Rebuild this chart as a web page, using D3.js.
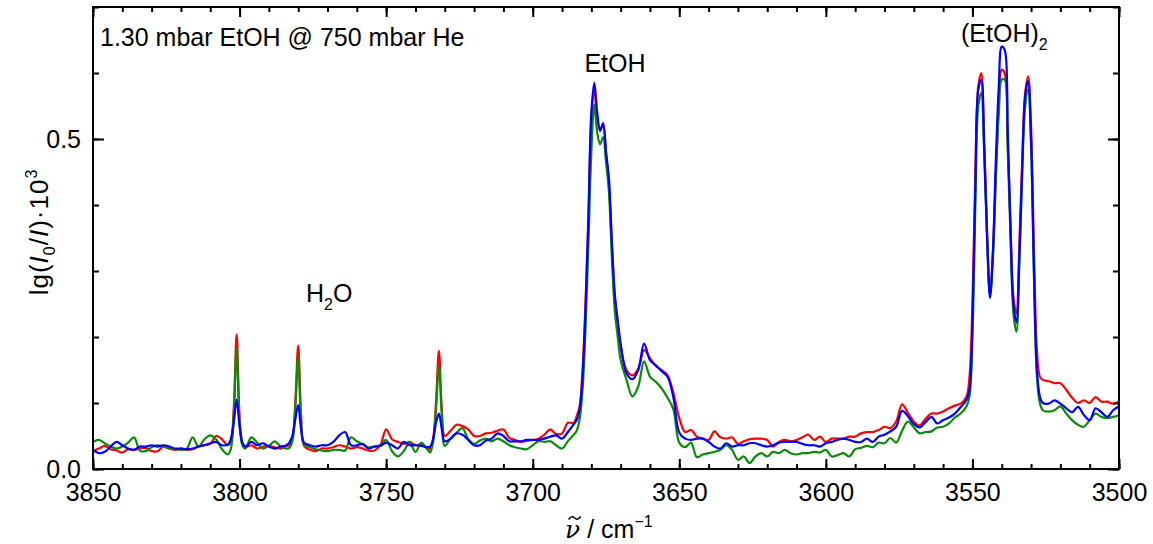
<!DOCTYPE html>
<html><head><meta charset="utf-8">
<script src="https://cdn.jsdelivr.net/npm/d3@7"></script>
<style>
body{margin:0;background:#fff}
svg{display:block}
text{font-family:"Liberation Sans",Arial,sans-serif;fill:#000}
</style>
</head><body>
<svg id="chart" width="1153" height="544"></svg>
<script>
// wavenumber grid (cm^-1)
const wavenumbers = [
 3850,3848,3846,3844,3842,3840,3838,3836,3834,3832,3830,3828,3826,3824,3822,3820,3818,3816,3814,3812,3810,3808,3806,3804,
 3803,3802,3801,3800,3799,
 3798,3796,3794,3792,3790,3788,3786,3784,
 3783,3782,3781,3780,3779,3778,
 3776,3774,3772,3770,3768,3766,3764,3762,3760,3758,3756,3754,3752,3750,3748,3746,3744,3742,3740,3738,3736,
 3735,3734,3733,3732,3731,3730,
 3728,3726,3724,3722,3720,3718,3716,3714,3712,3710,3708,3706,3704,3702,3700,3698,3696,3694,3692,3690,3688,3686,
 3685,3684,3683,3682,3681,3680,3679,3678,3677,3676,3675,3674,3673,3672,3671,3670,
 3668,3666,3664,3662,3660, 3658,3656,3654,3652,3650, 3648,3646,3644,3642,3640, 3638,3636,3634,3632,3630,
 3628,3626,3624,3622,3620, 3618,3616,3614,3612,3610, 3608,3606,3604,3602,3600, 3598,3596,3594,3592,3590,
 3588,3586,3584,3582,3580, 3578,3576,3574,3572,3570, 3568,3566,3564,3562,3560, 3558,3556,3554,3552,
 3551,3550,3549,3548,3547,3546,3545,3544,3543,3542,3541,3540,3539,3538,3537,3536,3535,3534,3533,3532,3531,3530,3529,3528,3527,3526,
 3524,3522,3520,3518,3516,3514,3512,3510,3508,3506,3504,3502,3500
];

const traceRed = [
 0.027,0.031,0.035,0.030,0.028,0.025,0.030,0.029,0.031,0.032,0.027,0.027,0.034,0.031,0.029,0.031,0.029,0.030,0.034,0.036,0.038,0.050,0.045,0.036,
 0.042,0.090,0.204,0.080,0.038,
 0.033,0.036,0.031,0.034,0.035,0.033,0.031,0.035,
 0.036,0.045,0.100,0.187,0.080,0.035,
 0.029,0.027,0.031,0.031,0.033,0.036,0.034,0.031,0.033,0.031,0.028,0.028,0.036,0.060,0.045,0.041,0.038,0.041,0.036,0.037,0.031,
 0.030,0.045,0.100,0.179,0.090,0.050,
 0.058,0.067,0.065,0.060,0.050,0.050,0.054,0.055,0.058,0.060,0.047,0.044,0.041,0.043,0.044,0.046,0.052,0.060,0.053,0.054,0.070,0.070,
 0.080,0.095,0.150,0.250,0.380,0.530,0.578,0.530,0.515,0.520,0.480,0.430,0.340,0.260,0.220,0.185,
 0.150,0.142,0.152,0.180,0.168, 0.156,0.150,0.142,0.115,0.077, 0.056,0.059,0.049,0.046,0.044, 0.057,0.048,0.046,0.048,0.038,
 0.042,0.045,0.046,0.046,0.044, 0.034,0.041,0.044,0.042,0.044, 0.048,0.052,0.044,0.049,0.041, 0.046,0.046,0.046,0.049,0.049,
 0.054,0.056,0.056,0.059,0.064, 0.062,0.072,0.098,0.085,0.072, 0.066,0.076,0.084,0.084,0.087, 0.092,0.096,0.099,0.110,
 0.140,0.250,0.450,0.580,0.600,0.500,0.360,0.266,0.330,0.450,0.550,0.605,0.600,0.500,0.370,0.260,0.236,0.340,0.470,0.570,0.595,0.520,0.330,0.180,0.140,0.135,
 0.133,0.130,0.130,0.120,0.108,0.100,0.104,0.100,0.109,0.102,0.102,0.099,0.102
];

const traceGreen = [
 0.041,0.044,0.039,0.034,0.031,0.034,0.040,0.048,0.028,0.027,0.033,0.036,0.034,0.031,0.030,0.029,0.031,0.048,0.034,0.045,0.051,0.045,0.030,0.022,
 0.030,0.080,0.183,0.070,0.035,
 0.031,0.048,0.040,0.031,0.035,0.042,0.034,0.031,
 0.032,0.042,0.090,0.171,0.070,0.037,
 0.033,0.030,0.028,0.027,0.029,0.029,0.028,0.048,0.042,0.037,0.033,0.034,0.036,0.044,0.027,0.019,0.027,0.040,0.026,0.040,0.030,
 0.025,0.040,0.090,0.156,0.080,0.035,
 0.046,0.055,0.062,0.045,0.038,0.043,0.046,0.042,0.046,0.042,0.036,0.033,0.031,0.030,0.036,0.042,0.041,0.042,0.036,0.031,0.042,0.052,
 0.058,0.075,0.120,0.210,0.340,0.480,0.552,0.510,0.492,0.503,0.465,0.420,0.320,0.240,0.200,0.165,
 0.135,0.110,0.125,0.163,0.140, 0.132,0.122,0.108,0.090,0.040, 0.033,0.040,0.018,0.022,0.024, 0.026,0.029,0.036,0.029,0.014,
 0.019,0.009,0.019,0.024,0.019, 0.026,0.024,0.029,0.024,0.022, 0.024,0.024,0.026,0.025,0.029, 0.019,0.021,0.024,0.019,0.030,
 0.032,0.035,0.033,0.040,0.039, 0.047,0.040,0.058,0.072,0.063, 0.054,0.056,0.057,0.063,0.064, 0.069,0.078,0.084,0.095,
 0.110,0.200,0.400,0.550,0.570,0.480,0.350,0.262,0.320,0.440,0.540,0.590,0.590,0.490,0.350,0.235,0.208,0.310,0.450,0.550,0.575,0.490,0.290,0.140,0.100,0.089,
 0.087,0.089,0.095,0.084,0.074,0.067,0.064,0.074,0.084,0.079,0.077,0.079,0.081
];

const traceBlue = [
 0.029,0.024,0.026,0.034,0.041,0.036,0.031,0.029,0.034,0.034,0.036,0.034,0.036,0.034,0.031,0.031,0.030,0.031,0.034,0.036,0.039,0.041,0.036,0.037,
 0.045,0.070,0.105,0.065,0.040,
 0.034,0.041,0.036,0.039,0.034,0.031,0.034,0.036,
 0.040,0.050,0.075,0.097,0.060,0.040,
 0.036,0.034,0.036,0.036,0.041,0.051,0.056,0.036,0.036,0.038,0.031,0.034,0.035,0.040,0.036,0.031,0.041,0.036,0.036,0.035,0.033,
 0.034,0.045,0.070,0.084,0.060,0.042,
 0.046,0.054,0.052,0.044,0.036,0.036,0.043,0.046,0.054,0.050,0.042,0.042,0.042,0.044,0.044,0.044,0.046,0.049,0.051,0.046,0.056,0.068,
 0.074,0.090,0.140,0.240,0.380,0.540,0.585,0.540,0.512,0.524,0.480,0.440,0.345,0.265,0.225,0.190,
 0.145,0.136,0.150,0.190,0.165, 0.157,0.148,0.140,0.108,0.055, 0.046,0.044,0.046,0.046,0.041, 0.034,0.031,0.039,0.034,0.036,
 0.036,0.039,0.039,0.036,0.034, 0.036,0.040,0.041,0.041,0.041, 0.038,0.036,0.036,0.034,0.039, 0.041,0.044,0.046,0.044,0.041,
 0.041,0.046,0.041,0.049,0.052, 0.057,0.064,0.088,0.080,0.068, 0.063,0.071,0.079,0.069,0.074, 0.078,0.084,0.094,0.105,
 0.120,0.220,0.430,0.575,0.590,0.490,0.350,0.259,0.330,0.470,0.580,0.640,0.635,0.520,0.360,0.250,0.222,0.320,0.460,0.565,0.588,0.500,0.300,0.150,0.110,0.100,
 0.099,0.104,0.099,0.092,0.086,0.094,0.082,0.074,0.092,0.086,0.079,0.089,0.095
];

const xTickLabels = [3850, 3800, 3750, 3700, 3650, 3600, 3550, 3500];
const yTickLabels = [0.0, 0.5];
const seriesColors = ["#ff0000", "#0a8a0a", "#0000ff"];

const W = 1153, H = 544;
const margin = {left: 93, top: 7, right: 34, bottom: 75};
const svg = d3.select("#chart");

const x = d3.scaleLinear().domain([3850, 3500]).range([margin.left, W - margin.right]);
const y = d3.scaleLinear().domain([0, 0.7]).range([H - margin.bottom, margin.top]);

const minorX = d3.range(3500, 3851, 10);
const minorY = d3.range(0, 0.701, 0.1);

// plot lines
const series = [traceRed, traceGreen, traceBlue];
const line = d3.line()
  .x(d => x(d[0])).y(d => y(d[1]))
  .curve(d3.curveCatmullRom.alpha(0.5));

const plotG = svg.append("g");
series.forEach((vals, i) => {
  const pts = wavenumbers.map((w, k) => [w, vals[k]]);
  plotG.append("path").datum(pts)
    .attr("fill", "none").attr("stroke", seriesColors[i])
    .attr("stroke-width", 2.2).attr("stroke-linejoin", "round")
    .attr("d", line);
});

// axes
const x0 = H - margin.bottom, xTop = margin.top, yL = margin.left, yR = W - margin.right;
function styleAxis(g){ g.select(".domain").remove(); g.selectAll("line").attr("stroke","#000").attr("stroke-width",2); }
const tickFont = "25px";

svg.append("g").attr("transform", `translate(0,${x0})`)
  .call(d3.axisBottom(x).tickValues(minorX).tickSize(-5).tickFormat(""))
  .call(styleAxis);
svg.append("g").attr("transform", `translate(0,${x0})`)
  .call(d3.axisBottom(x).tickValues(xTickLabels).tickSize(-10).tickPadding(14).tickFormat(d3.format("d")))
  .call(styleAxis)
  .selectAll("text").style("font-size", tickFont).attr("font-family","Liberation Sans, Arial, sans-serif");

svg.append("g").attr("transform", `translate(0,${xTop})`)
  .call(d3.axisTop(x).tickValues(minorX).tickSize(-5).tickFormat("")).call(styleAxis);
svg.append("g").attr("transform", `translate(0,${xTop})`)
  .call(d3.axisTop(x).tickValues(xTickLabels).tickSize(-10).tickFormat("")).call(styleAxis);

svg.append("g").attr("transform", `translate(${yL},0)`)
  .call(d3.axisLeft(y).tickValues(minorY).tickSize(-6).tickFormat("")).call(styleAxis);
svg.append("g").attr("transform", `translate(${yL},0)`)
  .call(d3.axisLeft(y).tickValues(yTickLabels).tickSize(-11).tickPadding(12).tickFormat(d3.format(".1f")))
  .call(styleAxis)
  .selectAll("text").style("font-size", tickFont).attr("font-family","Liberation Sans, Arial, sans-serif");

svg.append("g").attr("transform", `translate(${yR},0)`)
  .call(d3.axisRight(y).tickValues(minorY).tickSize(-6).tickFormat("")).call(styleAxis);
svg.append("g").attr("transform", `translate(${yR},0)`)
  .call(d3.axisRight(y).tickValues(yTickLabels).tickSize(-11).tickFormat("")).call(styleAxis);

// frame
svg.append("rect").attr("x", yL).attr("y", xTop).attr("width", yR - yL).attr("height", x0 - xTop)
  .attr("fill", "none").attr("stroke", "#000").attr("stroke-width", 2);

// annotations
const annFont = "25px", subFont = "16px";
svg.append("text").attr("x", 100).attr("y", 46).style("font-size", annFont).text("1.30 mbar EtOH @ 750 mbar He");

const h2o = svg.append("text").attr("x", 306).attr("y", 302).style("font-size", annFont);
h2o.append("tspan").text("H");
h2o.append("tspan").attr("dy", 8).style("font-size", subFont).text("2");
h2o.append("tspan").attr("dy", -8).text("O");

svg.append("text").attr("x", 615).attr("y", 72).attr("text-anchor", "middle").style("font-size", annFont).text("EtOH");

const dimer = svg.append("text").attr("x", 961).attr("y", 42).style("font-size", annFont);
dimer.append("tspan").text("(EtOH)");
dimer.append("tspan").attr("dy", 8).style("font-size", subFont).text("2");

// y axis title
const yt = svg.append("text").attr("transform", "translate(48,232) rotate(-90)")
  .attr("text-anchor", "middle").style("font-size", "26px").style("letter-spacing", "1px");
yt.append("tspan").text("lg(");
yt.append("tspan").style("font-style", "italic").text("I");
yt.append("tspan").attr("dy", 7).style("font-size", subFont).text("0");
yt.append("tspan").attr("dy", -7).text("/");
yt.append("tspan").style("font-style", "italic").text("I");
yt.append("tspan").text(")·10");
yt.append("tspan").attr("dy", -11).style("font-size", subFont).text("3");

// x axis title: italic nu with a drawn tilde accent, then " / cm^-1"
const xLabelX = 565, xLabelY = 538;
const nu = svg.append("text").attr("x", xLabelX).attr("y", xLabelY)
  .style("font-size", "25px").style("font-family", "'DejaVu Serif','Liberation Serif',serif")
  .style("font-style", "italic").text("ν");
const nuW = nu.node().getComputedTextLength();
const tc = xLabelX + nuW / 2 + 2, ty = xLabelY - 20;
svg.append("path")
  .attr("d", `M${tc - 6},${ty + 1.5} Q${tc - 3},${ty - 3} ${tc},${ty} T${tc + 6},${ty - 1.5}`)
  .attr("fill", "none").attr("stroke", "#000").attr("stroke-width", 1.5);
const xt = svg.append("text").attr("x", xLabelX + nuW + 7).attr("y", xLabelY).style("font-size", "25px");
xt.append("tspan").text("/ cm");
xt.append("tspan").attr("dy", -11).style("font-size", subFont).text("\u22121");
</script>
</body></html>
